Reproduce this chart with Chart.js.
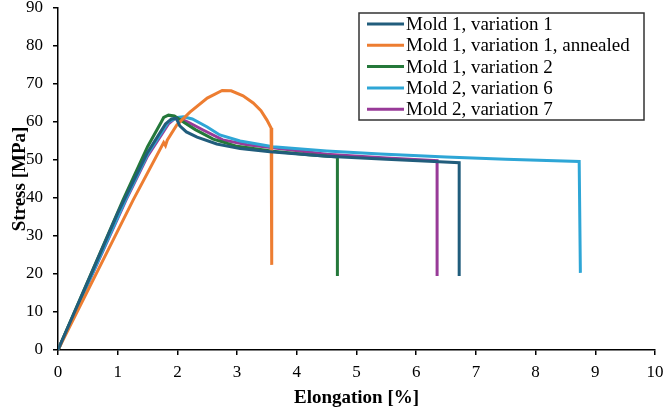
<!DOCTYPE html>
<html>
<head>
<meta charset="utf-8">
<script src="https://cdn.jsdelivr.net/npm/chart.js@4/dist/chart.umd.min.js"></script>
<style>
body{margin:0;background:#fff;}
</style>
</head>
<body>
<canvas id="myChart" width="664" height="411"></canvas>
<script>
'use strict';

// series labels + colours
const seriesNames=['Mold 1, variation 1','Mold 1, variation 1, annealed','Mold 1, variation 2','Mold 2, variation 6','Mold 2, variation 7'];
const seriesColors=['#215d7c','#ed7d31','#24783a','#2ea6d6','#983a98'];

// elongation [%] / stress [MPa]
const m1v1X=[0,1.0,1.5,1.8,1.9,1.98,2.04,2.15,2.33,2.66,3.05,3.55,4.5,5.5,6.3,6.72,6.72];
const m1v1Y=[0,36,52,59.5,60.8,61,59,57.4,56,54.2,53,52.2,51,50.2,49.6,49.3,19.5];

const m1v1aX=[0,1.26,1.77,1.8,1.83,1.99,2.21,2.5,2.75,2.9,3.1,3.27,3.4,3.5,3.57,3.58];
const m1v1aY=[0,39.5,54.6,53.8,55.2,59.2,62.6,66.3,68.3,68.2,66.9,65,63,60.5,58.4,22.4];

const m1v2X=[0,1.09,1.5,1.73,1.77,1.85,1.95,2.1,2.3,2.6,3.0,3.6,4.2,4.68,4.68];
const m1v2Y=[0,39.5,53.5,60,61.2,61.8,61.6,60,58,55.5,53.6,52.3,51.4,50.8,19.5];

const m2v6X=[0,1.13,1.5,1.85,2.0,2.1,2.25,2.5,2.71,3.05,3.6,4.5,5.4,6.5,7.5,8.73,8.75];
const m2v6Y=[0,39.5,51.5,60,61.2,61.4,60.8,58.7,56.6,55,53.5,52.4,51.6,50.8,50.2,49.6,20.3];

const m2v7X=[0,1.14,1.5,1.85,1.95,2.04,2.2,2.43,2.76,3.17,3.6,4.5,5.5,6.35,6.35];
const m2v7Y=[0,39.5,51,59.5,60.8,61,59.8,57.9,55.3,54,53.2,51.5,50.5,49.8,19.5];

const allX=[m1v1X,m1v1aX,m1v2X,m2v6X,m2v7X];
const allY=[m1v1Y,m1v1aY,m1v2Y,m2v6Y,m2v7Y];

function toPoints(xs,ys){
    let pts=[];
    for(let i=0;i<xs.length;i++){
        pts.push({x:xs[i],y:ys[i]});
    }
    return pts;
}

let datasets=[];
for(let i=0;i<seriesNames.length;i++){
    datasets.push({
        label:seriesNames[i],
        data:toPoints(allX[i],allY[i]),
        borderColor:seriesColors[i],
        backgroundColor:seriesColors[i],
        borderWidth:3,
        showLine:true,
        pointRadius:0,
        tension:0
    });
}

// boxed legend inside the plot, top right
const boxLegend={
    id:'boxLegend',
    afterDatasetsDraw(chart){
        const ctx=chart.ctx;
        const left=359, top=13, w=285, h=107;
        ctx.save();
        ctx.fillStyle='#fff';
        ctx.fillRect(left,top,w,h);
        ctx.strokeStyle='#333';
        ctx.lineWidth=1.5;
        ctx.strokeRect(left,top,w,h);
        ctx.font='19px "Liberation Serif"';
        ctx.textBaseline='middle';
        ctx.fillStyle='#000';
        chart.data.datasets.forEach((ds,i)=>{
            const y=24+i*21.3;
            ctx.strokeStyle=ds.borderColor;
            ctx.lineWidth=3;
            ctx.beginPath();
            ctx.moveTo(367,y);
            ctx.lineTo(404,y);
            ctx.stroke();
            ctx.fillText(ds.label,406,y+1);
        });
        ctx.restore();
    }
};

const tickFont={family:'"Liberation Serif"',size:17};
const titleFont={family:'"Liberation Serif"',size:19,weight:'bold'};

var ctx=document.getElementById('myChart').getContext('2d');
var myChart=new Chart(ctx,{
    type:'scatter',
    data:{datasets:datasets},
    options:{
        responsive:false,
        animation:false,
        layout:{padding:{top:8,right:9,left:0,bottom:0}},
        plugins:{
            legend:{display:false},
            tooltip:{enabled:false}
        },
        scales:{
            x:{
                type:'linear',
                min:0,
                max:10,
                ticks:{stepSize:1,color:'#000',font:tickFont,padding:7,maxRotation:0},
                grid:{drawOnChartArea:false,drawTicks:true,tickLength:5,color:'#000',lineWidth:1.5},
                border:{color:'#000',width:1.5},
                title:{display:true,text:'Elongation [%]',color:'#000',font:titleFont,padding:{top:0,bottom:2}},
                afterFit(scale){
                    scale.height=61;
                    scale.paddingLeft=0;
                    scale.paddingRight=0;
                }
            },
            y:{
                type:'linear',
                min:0,
                max:90,
                ticks:{stepSize:10,color:'#000',font:tickFont,padding:10},
                grid:{drawOnChartArea:false,drawTicks:true,tickLength:5,color:'#000',lineWidth:1.5},
                border:{color:'#000',width:1.5},
                title:{display:true,text:'Stress [MPa]',color:'#000',font:titleFont,padding:{top:9,bottom:9}},
                afterFit(scale){
                    scale.width=58;
                    scale.paddingTop=0;
                    scale.paddingBottom=0;
                }
            }
        }
    },
    plugins:[boxLegend]
});
</script>
</body>
</html>
